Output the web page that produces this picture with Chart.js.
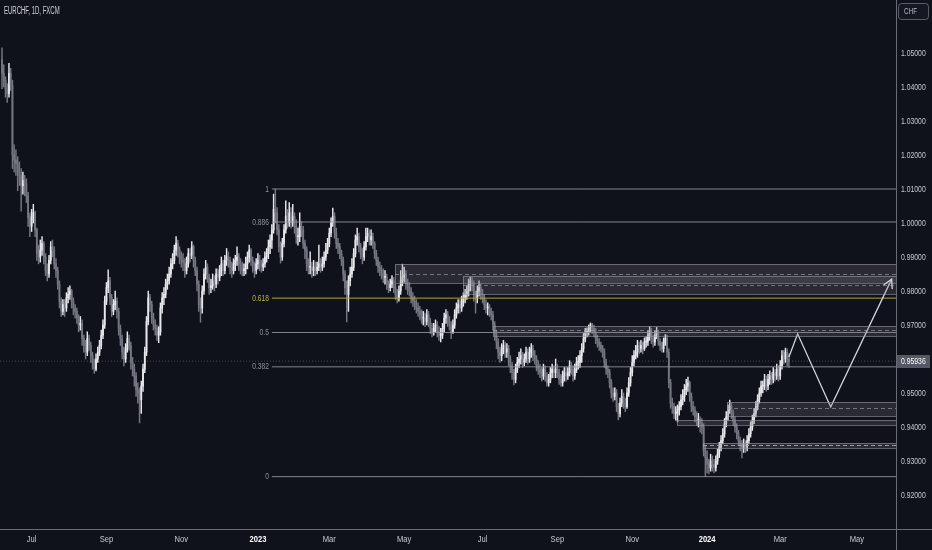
<!DOCTYPE html>
<html><head><meta charset="utf-8">
<script src="https://cdn.jsdelivr.net/npm/chart.js@4.4.1/dist/chart.umd.min.js"></script>
<style>html,body{margin:0;padding:0;background:#10121b;overflow:hidden}canvas{display:block}</style>
</head><body>
<canvas id="c" width="932" height="550"></canvas>
<script>
// ---------------- DATA ----------------
const symbolTitle = 'EURCHF, 1D, FXCM';
const currency = 'CHF';
const firstOpen = 1.0480;
const close = [
1.0440,1.0420,1.0395,1.0380,1.0440,1.0405,1.0200,1.0185,1.0175,1.0150,
1.0140,1.0110,1.0125,1.0115,1.0080,1.0015,0.9990,1.0020,1.0030,0.9980,
0.9910,0.9900,0.9920,0.9940,0.9900,0.9860,0.9850,0.9890,0.9930,0.9920,
0.9880,0.9860,0.9820,0.9770,0.9740,0.9760,0.9750,0.9780,0.9790,0.9800,
0.9770,0.9750,0.9740,0.9720,0.9700,0.9705,0.9660,0.9640,0.9620,0.9660,
0.9640,0.9610,0.9590,0.9570,0.9600,0.9620,0.9640,0.9670,0.9700,0.9770,
0.9810,0.9830,0.9780,0.9740,0.9760,0.9770,0.9740,0.9690,0.9660,0.9620,
0.9600,0.9630,0.9660,0.9640,0.9590,0.9570,0.9550,0.9510,0.9500,0.9480,
0.9520,0.9570,0.9620,0.9710,0.9780,0.9760,0.9720,0.9700,0.9690,0.9670,
0.9680,0.9750,0.9780,0.9790,0.9820,0.9830,0.9850,0.9880,0.9890,0.9920,
0.9940,0.9920,0.9900,0.9890,0.9885,0.9860,0.9880,0.9910,0.9905,0.9930,
0.9890,0.9860,0.9820,0.9760,0.9750,0.9800,0.9850,0.9870,0.9840,0.9810,
0.9815,0.9830,0.9820,0.9850,0.9840,0.9860,0.9880,0.9860,0.9890,0.9900,
0.9890,0.9870,0.9860,0.9880,0.9890,0.9900,0.9880,0.9870,0.9860,0.9865,
0.9880,0.9900,0.9920,0.9890,0.9870,0.9860,0.9880,0.9890,0.9880,0.9870,
0.9880,0.9900,0.9910,0.9930,0.9950,0.9980,1.0040,1.0030,0.9980,0.9930,
0.9900,0.9940,0.9980,1.0020,1.0000,1.0030,1.0000,1.0020,0.9990,0.9960,
0.9960,0.9990,0.9980,0.9940,0.9920,0.9880,0.9870,0.9870,0.9860,0.9870,
0.9860,0.9870,0.9880,0.9870,0.9880,0.9900,0.9920,0.9940,0.9970,1.0000,
1.0020,0.9970,0.9940,0.9930,0.9910,0.9890,0.9850,0.9810,0.9790,0.9830,
0.9850,0.9870,0.9910,0.9950,0.9960,0.9930,0.9910,0.9900,0.9930,0.9960,
0.9970,0.9950,0.9960,0.9940,0.9910,0.9890,0.9870,0.9860,0.9850,0.9840,
0.9840,0.9820,0.9810,0.9820,0.9830,0.9810,0.9790,0.9780,0.9800,0.9830,
0.9840,0.9850,0.9820,0.9810,0.9800,0.9780,0.9770,0.9760,0.9750,0.9740,
0.9730,0.9720,0.9720,0.9710,0.9730,0.9710,0.9690,0.9680,0.9690,0.9700,
0.9680,0.9670,0.9670,0.9690,0.9720,0.9730,0.9710,0.9700,0.9680,0.9700,
0.9730,0.9750,0.9760,0.9750,0.9770,0.9780,0.9790,0.9800,0.9820,0.9830,
0.9820,0.9790,0.9780,0.9800,0.9810,0.9790,0.9780,0.9760,0.9750,0.9750,
0.9740,0.9730,0.9700,0.9670,0.9650,0.9620,0.9610,0.9630,0.9640,0.9620,
0.9630,0.9600,0.9580,0.9560,0.9540,0.9570,0.9590,0.9600,0.9610,0.9590,
0.9600,0.9620,0.9600,0.9620,0.9630,0.9610,0.9600,0.9580,0.9570,0.9560,
0.9550,0.9570,0.9550,0.9530,0.9540,0.9560,0.9570,0.9560,0.9570,0.9560,
0.9540,0.9530,0.9550,0.9560,0.9550,0.9560,0.9580,0.9570,0.9550,0.9570,
0.9590,0.9590,0.9610,0.9630,0.9660,0.9680,0.9680,0.9690,0.9700,0.9690,
0.9680,0.9660,0.9650,0.9640,0.9630,0.9620,0.9590,0.9570,0.9560,0.9530,
0.9500,0.9490,0.9500,0.9460,0.9440,0.9470,0.9490,0.9470,0.9460,0.9500,
0.9530,0.9560,0.9590,0.9610,0.9620,0.9640,0.9630,0.9640,0.9630,0.9650,
0.9650,0.9670,0.9680,0.9660,0.9650,0.9670,0.9680,0.9650,0.9640,0.9630,
0.9650,0.9660,0.9620,0.9530,0.9470,0.9460,0.9440,0.9440,0.9450,0.9460,
0.9480,0.9490,0.9510,0.9520,0.9530,0.9490,0.9460,0.9450,0.9430,0.9420,
0.9420,0.9410,0.9400,0.9330,0.9310,0.9290,0.9280,0.9300,0.9290,0.9280,
0.9300,0.9320,0.9340,0.9360,0.9380,0.9410,0.9430,0.9450,0.9460,0.9440,
0.9420,0.9400,0.9380,0.9360,0.9350,0.9340,0.9350,0.9340,0.9360,0.9380,
0.9400,0.9420,0.9440,0.9460,0.9480,0.9500,0.9520,0.9520,0.9540,0.9520,
0.9540,0.9550,0.9540,0.9560,0.9550,0.9570,0.9550,0.9580,0.9610,0.9600,
0.9620,0.9600,0.95936
];
const high = [
1.0515,1.0465,1.0430,1.0410,1.0470,1.0455,1.0420,1.0230,1.0215,1.0195,
1.0180,1.0160,1.0150,1.0140,1.0130,1.0090,1.0030,1.0040,1.0055,1.0035,
0.9985,0.9935,0.9950,0.9960,0.9945,0.9910,0.9880,0.9905,0.9945,0.9950,
0.9930,0.9895,0.9870,0.9830,0.9780,0.9775,0.9775,0.9795,0.9810,0.9815,
0.9805,0.9780,0.9760,0.9750,0.9730,0.9725,0.9715,0.9670,0.9655,0.9680,
0.9670,0.9650,0.9620,0.9600,0.9615,0.9635,0.9655,0.9685,0.9715,0.9785,
0.9825,0.9862,0.9840,0.9790,0.9775,0.9800,0.9780,0.9750,0.9700,0.9670,
0.9635,0.9645,0.9680,0.9670,0.9650,0.9605,0.9585,0.9560,0.9530,0.9515,
0.9535,0.9585,0.9635,0.9725,0.9800,0.9790,0.9770,0.9735,0.9715,0.9700,
0.9695,0.9765,0.9795,0.9810,0.9835,0.9850,0.9870,0.9895,0.9910,0.9935,
0.9960,0.9950,0.9930,0.9915,0.9910,0.9895,0.9900,0.9925,0.9925,0.9945,
0.9935,0.9900,0.9870,0.9830,0.9780,0.9815,0.9865,0.9890,0.9880,0.9850,
0.9835,0.9850,0.9845,0.9865,0.9865,0.9875,0.9900,0.9890,0.9905,0.9925,
0.9915,0.9900,0.9885,0.9895,0.9905,0.9930,0.9910,0.9895,0.9885,0.9880,
0.9900,0.9915,0.9935,0.9925,0.9900,0.9885,0.9895,0.9910,0.9905,0.9890,
0.9895,0.9915,0.9925,0.9950,0.9965,0.9995,1.0085,1.0100,1.0045,0.9995,
0.9945,0.9955,0.9995,1.0065,1.0040,1.0060,1.0045,1.0055,1.0030,1.0010,
0.9985,1.0030,1.0005,0.9990,0.9950,0.9930,0.9895,0.9915,0.9885,0.9890,
0.9885,0.9885,0.9935,0.9895,0.9900,0.9915,0.9940,0.9955,0.9985,1.0015,
1.0044,1.0030,0.9985,0.9955,0.9940,0.9920,0.9900,0.9860,0.9830,0.9845,
0.9870,0.9895,0.9925,0.9965,0.9985,0.9970,0.9940,0.9925,0.9945,0.9985,
0.9985,0.9980,0.9980,0.9970,0.9945,0.9920,0.9900,0.9885,0.9875,0.9865,
0.9860,0.9850,0.9830,0.9835,0.9845,0.9840,0.9820,0.9805,0.9815,0.9860,
0.9879,0.9870,0.9860,0.9835,0.9825,0.9810,0.9795,0.9785,0.9775,0.9765,
0.9755,0.9745,0.9740,0.9735,0.9745,0.9740,0.9720,0.9705,0.9705,0.9715,
0.9710,0.9695,0.9690,0.9705,0.9735,0.9745,0.9740,0.9725,0.9710,0.9715,
0.9745,0.9765,0.9775,0.9775,0.9785,0.9795,0.9805,0.9815,0.9835,0.9841,
0.9840,0.9830,0.9800,0.9815,0.9830,0.9820,0.9805,0.9790,0.9775,0.9765,
0.9760,0.9750,0.9740,0.9710,0.9685,0.9660,0.9635,0.9645,0.9655,0.9650,
0.9645,0.9640,0.9610,0.9590,0.9570,0.9585,0.9605,0.9620,0.9630,0.9620,
0.9615,0.9635,0.9630,0.9635,0.9645,0.9640,0.9625,0.9610,0.9595,0.9585,
0.9575,0.9585,0.9580,0.9560,0.9555,0.9575,0.9585,0.9580,0.9600,0.9585,
0.9570,0.9555,0.9565,0.9575,0.9575,0.9575,0.9595,0.9590,0.9580,0.9585,
0.9605,0.9610,0.9625,0.9645,0.9675,0.9690,0.9692,0.9700,0.9706,0.9705,
0.9700,0.9690,0.9670,0.9660,0.9650,0.9640,0.9630,0.9600,0.9580,0.9570,
0.9540,0.9515,0.9515,0.9510,0.9470,0.9485,0.9510,0.9500,0.9485,0.9515,
0.9545,0.9575,0.9610,0.9625,0.9640,0.9655,0.9650,0.9655,0.9650,0.9662,
0.9665,0.9682,0.9695,0.9690,0.9670,0.9682,0.9693,0.9685,0.9660,0.9650,
0.9662,0.9672,0.9670,0.9630,0.9540,0.9485,0.9470,0.9460,0.9465,0.9475,
0.9495,0.9510,0.9525,0.9540,0.9547,0.9535,0.9500,0.9475,0.9460,0.9445,
0.9440,0.9430,0.9425,0.9410,0.9345,0.9330,0.9305,0.9320,0.9315,0.9305,
0.9315,0.9335,0.9355,0.9375,0.9395,0.9425,0.9445,0.9465,0.9479,0.9470,
0.9450,0.9430,0.9410,0.9390,0.9370,0.9360,0.9365,0.9360,0.9375,0.9395,
0.9415,0.9435,0.9455,0.9475,0.9495,0.9515,0.9535,0.9535,0.9555,0.9550,
0.9555,0.9565,0.9560,0.9575,0.9570,0.9585,0.9580,0.9595,0.9625,0.9625,
0.9632,0.9630,0.9615
];
const low = [
1.0395,1.0400,1.0370,1.0355,1.0370,1.0390,1.0160,1.0150,1.0140,1.0095,
1.0110,1.0035,1.0085,1.0080,1.0060,0.9990,0.9960,0.9975,1.0000,0.9960,
0.9890,0.9880,0.9885,0.9905,0.9880,0.9845,0.9830,0.9840,0.9880,0.9900,
0.9865,0.9840,0.9805,0.9750,0.9725,0.9730,0.9725,0.9740,0.9765,0.9775,
0.9750,0.9730,0.9720,0.9705,0.9680,0.9685,0.9640,0.9620,0.9600,0.9610,
0.9625,0.9590,0.9570,0.9558,0.9565,0.9590,0.9610,0.9630,0.9660,0.9690,
0.9760,0.9795,0.9760,0.9725,0.9730,0.9745,0.9720,0.9670,0.9640,0.9600,
0.9580,0.9590,0.9620,0.9625,0.9570,0.9550,0.9520,0.9490,0.9470,0.9412,
0.9440,0.9505,0.9560,0.9610,0.9700,0.9740,0.9705,0.9685,0.9670,0.9655,
0.9648,0.9670,0.9735,0.9760,0.9780,0.9805,0.9820,0.9840,0.9865,0.9880,
0.9905,0.9900,0.9880,0.9870,0.9860,0.9840,0.9850,0.9870,0.9885,0.9895,
0.9870,0.9845,0.9800,0.9740,0.9708,0.9735,0.9790,0.9835,0.9825,0.9790,
0.9795,0.9805,0.9800,0.9810,0.9820,0.9830,0.9845,0.9845,0.9850,0.9875,
0.9870,0.9850,0.9840,0.9850,0.9860,0.9875,0.9860,0.9850,0.9845,0.9845,
0.9850,0.9865,0.9885,0.9875,0.9855,0.9840,0.9850,0.9865,0.9860,0.9855,
0.9860,0.9870,0.9885,0.9895,0.9910,0.9925,0.9970,1.0000,0.9965,0.9915,
0.9882,0.9890,0.9930,0.9970,0.9985,0.9990,0.9985,0.9990,0.9970,0.9940,
0.9935,0.9945,0.9960,0.9925,0.9895,0.9860,0.9850,0.9850,0.9840,0.9845,
0.9845,0.9850,0.9860,0.9855,0.9860,0.9870,0.9890,0.9910,0.9930,0.9960,
0.9990,0.9955,0.9925,0.9910,0.9895,0.9875,0.9830,0.9790,0.9709,0.9740,
0.9815,0.9840,0.9860,0.9900,0.9935,0.9915,0.9895,0.9880,0.9890,0.9920,
0.9945,0.9935,0.9935,0.9925,0.9895,0.9875,0.9855,0.9845,0.9835,0.9825,
0.9820,0.9805,0.9795,0.9800,0.9810,0.9795,0.9775,0.9765,0.9770,0.9790,
0.9815,0.9825,0.9805,0.9790,0.9785,0.9765,0.9755,0.9745,0.9735,0.9725,
0.9715,0.9705,0.9700,0.9695,0.9700,0.9695,0.9675,0.9665,0.9670,0.9680,
0.9665,0.9655,0.9650,0.9660,0.9680,0.9705,0.9695,0.9685,0.9660,0.9675,
0.9690,0.9720,0.9735,0.9735,0.9740,0.9755,0.9765,0.9775,0.9785,0.9800,
0.9800,0.9770,0.9735,0.9765,0.9785,0.9775,0.9765,0.9745,0.9735,0.9730,
0.9725,0.9715,0.9685,0.9655,0.9630,0.9600,0.9590,0.9595,0.9615,0.9605,
0.9605,0.9580,0.9560,0.9540,0.9524,0.9530,0.9560,0.9575,0.9585,0.9575,
0.9580,0.9590,0.9585,0.9590,0.9605,0.9595,0.9585,0.9565,0.9555,0.9545,
0.9535,0.9540,0.9535,0.9520,0.9520,0.9530,0.9545,0.9545,0.9545,0.9545,
0.9525,0.9520,0.9520,0.9535,0.9535,0.9540,0.9550,0.9555,0.9535,0.9540,
0.9560,0.9570,0.9575,0.9590,0.9620,0.9650,0.9665,0.9670,0.9680,0.9675,
0.9665,0.9645,0.9635,0.9625,0.9620,0.9605,0.9575,0.9555,0.9545,0.9515,
0.9485,0.9475,0.9480,0.9445,0.9421,0.9430,0.9460,0.9455,0.9445,0.9455,
0.9490,0.9520,0.9550,0.9580,0.9600,0.9605,0.9615,0.9620,0.9615,0.9625,
0.9635,0.9640,0.9655,0.9645,0.9635,0.9640,0.9660,0.9640,0.9625,0.9620,
0.9620,0.9640,0.9605,0.9515,0.9455,0.9440,0.9425,0.9420,0.9415,0.9435,
0.9450,0.9465,0.9475,0.9495,0.9505,0.9475,0.9445,0.9435,0.9415,0.9405,
0.9400,0.9385,0.9380,0.9315,0.9254,0.9265,0.9262,0.9270,0.9270,0.9265,
0.9270,0.9290,0.9310,0.9330,0.9350,0.9370,0.9400,0.9420,0.9440,0.9425,
0.9405,0.9385,0.9365,0.9345,0.9330,0.9309,0.9325,0.9325,0.9330,0.9350,
0.9370,0.9390,0.9410,0.9430,0.9450,0.9470,0.9490,0.9500,0.9510,0.9505,
0.9510,0.9525,0.9525,0.9530,0.9535,0.9540,0.9535,0.9540,0.9570,0.9585,
0.9590,0.9580,0.9575
];
const lastPrice = 0.95936;
const xTickLabels = ['Jul','Sep','Nov','2023','Mar','May','Jul','Sep','Nov','2024','Mar','May'];
const xTickAt = [17,60,103,147,188,231,276,319,362,405,447,491];
const yTickValues = [0.92,0.93,0.94,0.95,0.96,0.97,0.98,0.99,1.00,1.01,1.02,1.03,1.04,1.05];
const fibLevels = ['1','0.886','0.618','0.5','0.382','0'];
const fibPrices = [1.0100,1.0003,0.9779,0.9678,0.9577,0.9254];
const fibStart = 155;
const zoneFrom = [225.7,264.8,282,387.7,402.6,416.4];
const zoneHigh = [0.9879,0.9844,0.9697,0.9421,0.9353,0.9474];
const zoneLow  = [0.9824,0.9791,0.9668,0.9407,0.9338,0.9432];
const zoneMid  = [0.9850,0.9818,0.9684,null,0.9346,0.9456];
const projX = [452,457,476,511];
const projY = [0.9606,0.9674,0.9459,0.9835];

// ---------------- STYLE ----------------
const X_MIN = -1.15, X_MAX = 513.5, Y_MIN = 0.91, Y_MAX = 1.06559;
const BG = '#10121b';
const UP = '#e6e7ec', DOWN = '#747781';
const FIB_GREY = 'rgba(150,153,162,0.85)', FIB_GOLD = '#a9a93a';
const SANS = "'Liberation Sans',Arial,sans-serif";
const TXT = '#c6c9d0';

const N = Math.min(close.length, high.length, low.length);
const open = [firstOpen].concat(close.slice(0, N - 1));
const wickData = [], bodyData = [], candleColors = [];
for (let i = 0; i < N; i++) {
  wickData.push({x: i, y: [low[i], high[i]]});
  bodyData.push({x: i, y: [open[i], close[i]]});
  candleColors.push(close[i] >= open[i] ? UP : DOWN);
}

const datasets = [
  {type:'bar', data: wickData, backgroundColor: candleColors, barThickness: 0.8, grouped:false, order: 5},
  {type:'bar', data: bodyData, backgroundColor: candleColors, barThickness: 1.15, minBarLength: 1, grouped:false, order: 4},
  {type:'line', data: [{x:X_MIN,y:lastPrice},{x:X_MAX,y:lastPrice}], borderColor:'rgba(120,123,134,0.5)', borderWidth:1, borderDash:[1,2], pointRadius:0, order: 6}
];
fibPrices.forEach((p, k) => {
  datasets.push({type:'line', data:[{x:fibStart,y:p},{x:X_MAX,y:p}], borderColor: fibLevels[k]==='0.618'?FIB_GOLD:FIB_GREY, borderWidth:1, pointRadius:0, order: 3});
});
datasets.push({type:'line', data: projX.map((x,i)=>({x, y:projY[i]})), borderColor:'#d4d6dc', borderWidth:1.3, pointRadius:0, tension:0, order: 1});

function sText(ctx, str, x, y, align, font, color, sx) {
  ctx.save();
  ctx.translate(x, y);
  ctx.scale(sx, 1);
  ctx.font = font; ctx.fillStyle = color; ctx.textAlign = align; ctx.textBaseline = 'middle';
  ctx.fillText(str, 0, 0);
  ctx.restore();
}

const overlay = {
  id: 'overlay',
  beforeDraw(chart) {
    const c = chart.ctx; c.save(); c.fillStyle = BG; c.fillRect(0,0,chart.width,chart.height); c.restore();
  },
  afterDatasetsDraw(chart) {
    const {ctx, chartArea: a, scales: {x, y}} = chart;
    ctx.save();
    ctx.beginPath(); ctx.rect(a.left, a.top, a.right - a.left, a.bottom - a.top); ctx.clip();
    for (let i = 0; i < zoneFrom.length; i++) {
      const x0 = Math.round(x.getPixelForValue(zoneFrom[i]));
      const y0 = Math.round(y.getPixelForValue(zoneHigh[i]));
      const y1 = Math.round(y.getPixelForValue(zoneLow[i]));
      ctx.fillStyle = 'rgba(120,123,134,0.24)';
      ctx.fillRect(x0, y0, a.right - x0, y1 - y0);
      ctx.strokeStyle = 'rgba(150,153,162,0.6)'; ctx.lineWidth = 1; ctx.setLineDash([]);
      ctx.strokeRect(x0 + 0.5, y0 + 0.5, a.right - x0 + 2, y1 - y0);
      if (zoneMid[i] !== null) {
        const ym = Math.round(y.getPixelForValue(zoneMid[i])) + 0.5;
        ctx.strokeStyle = i === 4 ? 'rgba(190,190,70,0.85)' : 'rgba(165,168,176,0.6)';
        ctx.setLineDash([4, 3]);
        ctx.beginPath(); ctx.moveTo(x0, ym); ctx.lineTo(a.right, ym); ctx.stroke();
        ctx.setLineDash([]);
      }
    }
    const n = projX.length;
    const tx = x.getPixelForValue(projX[n-1]), ty = y.getPixelForValue(projY[n-1]);
    const px = x.getPixelForValue(projX[n-2]), py = y.getPixelForValue(projY[n-2]);
    const ang = Math.atan2(ty - py, tx - px);
    ctx.strokeStyle = '#d4d6dc'; ctx.lineWidth = 1.3;
    ctx.beginPath();
    ctx.moveTo(tx - 10*Math.cos(ang - 0.5), ty - 10*Math.sin(ang - 0.5));
    ctx.lineTo(tx, ty);
    ctx.lineTo(tx - 10*Math.cos(ang + 0.5), ty - 10*Math.sin(ang + 0.5));
    ctx.stroke();
    ctx.restore();
    const fx = x.getPixelForValue(fibStart) - 3;
    fibPrices.forEach((p, k) => {
      sText(ctx, fibLevels[k], fx, y.getPixelForValue(p), 'right', "9.5px " + SANS,
        fibLevels[k]==='0.618' ? '#b5b545' : '#8f929b', 0.7);
    });
  },
  afterDraw(chart) {
    const {ctx, chartArea: a, scales: {x, y}} = chart;
    ctx.save();
    ctx.strokeStyle = '#6a6d77'; ctx.lineWidth = 1;
    ctx.beginPath(); ctx.moveTo(a.right + 0.5, 0); ctx.lineTo(a.right + 0.5, chart.height); ctx.stroke();
    ctx.beginPath(); ctx.moveTo(0, a.bottom + 0.5); ctx.lineTo(chart.width, a.bottom + 0.5); ctx.stroke();
    // price axis labels from the y scale ticks
    y.ticks.forEach(t => {
      if (Math.abs(t.value - lastPrice) < 0.004) return;
      sText(ctx, Number(t.value).toFixed(5), a.right + 5, y.getPixelForValue(t.value) + 0.5, 'left', "9.5px " + SANS, TXT, 0.72);
    });
    // time axis labels from the x scale ticks
    x.ticks.forEach((t, i) => {
      const lab = xTickLabels[i];
      const yr = /^\d{4}$/.test(lab);
      sText(ctx, lab, x.getPixelForValue(t.value), a.bottom + 10.5, 'center',
        (yr ? 'bold ' : '') + "9.5px " + SANS, yr ? '#ffffff' : TXT, 0.8);
    });
    // title
    sText(ctx, symbolTitle, 4, 11, 'left', "10px " + SANS, '#d2d4da', 0.6);
    // currency box
    ctx.fillStyle = '#151823'; ctx.strokeStyle = 'rgba(120,123,134,0.7)';
    ctx.beginPath(); ctx.roundRect(898.5, 3.5, 30, 16, 3); ctx.fill(); ctx.stroke();
    sText(ctx, currency, 904, 11.5, 'left', "9.5px " + SANS, '#b8bbc3', 0.67);
    // last price label
    const ly = Math.round(y.getPixelForValue(lastPrice));
    ctx.fillStyle = '#555965';
    ctx.fillRect(a.right + 1, ly - 6, 33, 13);
    sText(ctx, lastPrice.toFixed(5), a.right + 5, ly + 0.5, 'left', "9.5px " + SANS, '#ffffff', 0.72);
    ctx.restore();
  }
};

new Chart(document.getElementById('c'), {
  type: 'bar',
  data: { datasets },
  options: {
    responsive: false, animation: false, devicePixelRatio: 1,
    layout: { padding: 0 },
    plugins: { legend: {display:false}, tooltip: {enabled:false} },
    scales: {
      x: {
        type: 'linear', min: X_MIN, max: X_MAX, offset: false,
        grid: {display:false, drawTicks:false}, border: {display:false},
        afterBuildTicks: s => { s.ticks = xTickAt.map(v => ({value: v})); },
        afterFit: s => { s.height = 21; },
        ticks: { display: false, autoSkip: false, maxRotation: 0, callback: (v, i) => xTickLabels[i] }
      },
      y: {
        position: 'right', min: Y_MIN, max: Y_MAX,
        grid: {display:false, drawTicks:false}, border: {display:false},
        afterBuildTicks: s => { s.ticks = yTickValues.map(v => ({value: v})); },
        afterFit: s => { s.width = 36; },
        ticks: { display: false, callback: v => Number(v).toFixed(5) }
      }
    }
  },
  plugins: [overlay]
});
</script>
</body></html>
